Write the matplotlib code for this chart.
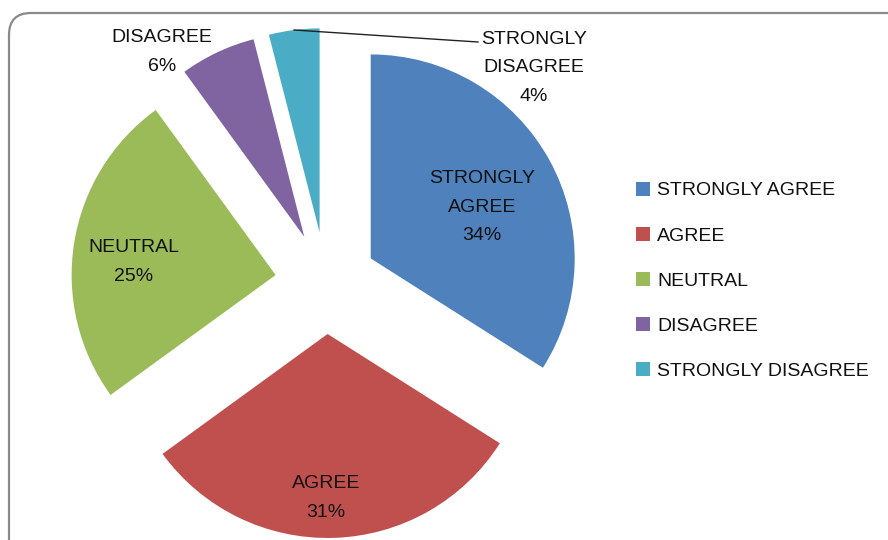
import math
import matplotlib
matplotlib.use("Agg")
import matplotlib.pyplot as plt
from matplotlib.patches import FancyBboxPatch, Patch

categories = ["STRONGLY AGREE", "AGREE", "NEUTRAL", "DISAGREE", "STRONGLY DISAGREE"]
shares = [34, 31, 25, 6, 4]
slice_labels = ["STRONGLY\nAGREE", "AGREE", "NEUTRAL", "DISAGREE", "STRONGLY\nDISAGREE"]
colors = ["#4F81BD", "#C0504D", "#9BBB59", "#8064A2", "#4BACC6"]

W, H = 888, 540
plt.rcParams["font.family"] = ["Liberation Sans", "DejaVu Sans"]

fig = plt.figure(figsize=(W / 100, H / 100), dpi=100)
ax = fig.add_axes([0, 0, 1, 1])

# work in pixel-like units, y measured from the top
def py(y):
    return H - y

cx, cy, r, gap = 326, 283, 204, 51
wedges, _ = ax.pie(shares, colors=colors, startangle=90, counterclock=False,
                   radius=r, center=(cx, py(cy)), explode=[gap] * len(shares),
                   wedgeprops=dict(linewidth=0))
ax.set_xlim(0, W)
ax.set_ylim(0, H)
ax.set_aspect("equal")
ax.axis("off")

# rounded chart border (display coords, origin bottom-left)
fig.patches.append(FancyBboxPatch((9, -30), W + 20, H - 13 + 30,
                                  boxstyle="round,pad=0,rounding_size=22",
                                  transform=None, fill=False, edgecolor="#8a8a8a", linewidth=1.6))

fs = 14
label_pos = [(482, 207), (326, 498), (134, 262), (162, 52), (534, 68)]
for lab, val, (x, y) in zip(slice_labels, shares, label_pos):
    ax.text(x, py(y), f"{lab}\n{val}%", ha="center", va="center", fontsize=fs,
            color="#111111", linespacing=1.9)

# leader line for the smallest slice
w = wedges[-1]
mid = math.radians((w.theta1 + w.theta2) / 2)
x0 = w.center[0] + r * math.cos(mid)
y0 = w.center[1] + r * math.sin(mid)
ax.plot([x0, 478], [y0, py(42)], color="#222222", linewidth=1)

handles = [Patch(facecolor=c, edgecolor="none") for c in colors]
ax.legend(handles, categories, loc="upper left", bbox_to_anchor=(618 / W, 1 - 164 / H),
          bbox_transform=fig.transFigure, frameon=False, fontsize=fs,
          handlelength=0.75, handleheight=0.75, handletextpad=0.35, labelspacing=1.4,
          labelcolor="#111111")

fig.savefig("out.png", dpi=100, facecolor="white")
